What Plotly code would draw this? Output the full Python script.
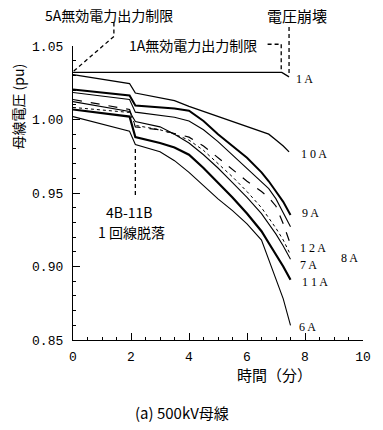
import plotly.graph_objects as go

# ---- data ----
time_grid = [0, 1.95, 2.15, 3, 3.5, 4, 4.5, 5, 5.5, 6, 6.5, 6.75, 7, 7.25, 7.5]
time_10A = [0, 1.95, 2.15, 3, 3.5, 4, 4.5, 5, 5.5, 6, 6.5, 6.75, 7, 7.25, 7.45]
time_1A = [0, 7.2, 7.45]

v_1A = [1.032, 1.032, 1.029]
v_10A = [1.0306, 1.0245, 1.018, 1.015, 1.0128, 1.009, 1.0055, 1.002, 0.9985, 0.9955, 0.992, 0.990, 0.986, 0.982, 0.978]
v_9A = [1.0204, 1.0163, 1.0095, 1.0082, 1.0075, 1.006, 0.999, 0.990, 0.982, 0.974, 0.964, 0.958, 0.951, 0.944, 0.935]
v_5A = [1.0184, 1.0136, 1.005, 1.003, 1.0015, 0.999, 0.993, 0.985, 0.976, 0.967, 0.958, 0.953, 0.946, 0.937, 0.927]
v_12A = [1.0136, 1.0068, 0.995, 0.993, 0.9905, 0.988, 0.982, 0.974, 0.966, 0.958, 0.951, 0.947, 0.941, 0.929, 0.915]
v_8A = [1.0082, 1.0048, 0.996, 0.993, 0.990, 0.986, 0.979, 0.970, 0.961, 0.951, 0.940, 0.933, 0.926, 0.918, 0.908]
v_7A = [1.0122, 1.0054, 0.9986, 0.995, 0.990, 0.984, 0.976, 0.967, 0.957, 0.947, 0.936, 0.929, 0.922, 0.914, 0.905]
v_11A = [1.0068, 1.002, 0.988, 0.984, 0.981, 0.976, 0.967, 0.957, 0.947, 0.936, 0.924, 0.916, 0.908, 0.900, 0.891]
v_6A = [1.002, 0.992, 0.983, 0.978, 0.972, 0.964, 0.955, 0.946, 0.938, 0.929, 0.918, 0.905, 0.892, 0.878, 0.860]

x_ticks = [0, 2, 4, 6, 8, 10]
y_ticks = [0.85, 0.90, 0.95, 1.00, 1.05]
y_tick_labels = ["0.85", "0.90", "0.95", "1.00", "1.05"]

X_RANGE = [0, 10]
Y_RANGE = [0.85, 1.05]

# ---- figure ----
W, H = 383, 430
ML, MR, MT, MB = 73, 12, 46, 90
PW, PH = W - ML - MR, H - MT - MB


def px(xp, yp):
    """pixel position in the window -> paper coordinates"""
    return (xp - ML) / PW, (H - MB - yp) / PH


def dpaper(t, v):
    """data coordinates -> paper coordinates (can lie outside the plot)"""
    return (t - X_RANGE[0]) / (X_RANGE[1] - X_RANGE[0]), (v - Y_RANGE[0]) / (Y_RANGE[1] - Y_RANGE[0])


fig = go.Figure()

series = [
    (time_1A, v_1A, dict(width=1.3, dash="solid")),
    (time_10A, v_10A, dict(width=1.3, dash="solid")),
    (time_grid, v_9A, dict(width=2.0, dash="solid")),
    (time_grid, v_5A, dict(width=1.1, dash="solid")),
    (time_grid, v_12A, dict(width=1.2, dash="dash")),
    (time_grid, v_8A, dict(width=1.0, dash="dot")),
    (time_grid, v_7A, dict(width=1.1, dash="solid")),
    (time_grid, v_11A, dict(width=2.2, dash="solid")),
    (time_grid, v_6A, dict(width=1.1, dash="solid")),
]
for t, v, ln in series:
    fig.add_trace(go.Scatter(x=t, y=v, mode="lines", line=dict(color="black", **ln),
                             showlegend=False, hoverinfo="skip"))

# dashed leader lines (defined in data units, drawn in paper space)
leaders = [
    [(1.41, 1.066), (1.41, 1.0565), (0.0, 1.0325)],          # 5A limit
    [(6.71, 1.0512), (7.18, 1.0512), (7.18, 1.0335)],        # 1A limit
    [(7.45, 1.063), (7.45, 1.031)],                          # voltage collapse
    [(2.15, 0.980), (2.15, 0.947)],                          # 4B-11B line trip
]
shapes = []
for pts in leaders:
    for (t0, v0), (t1, v1) in zip(pts[:-1], pts[1:]):
        x0, y0 = dpaper(t0, v0)
        x1, y1 = dpaper(t1, v1)
        shapes.append(dict(type="line", xref="paper", yref="paper", x0=x0, y0=y0, x1=x1, y1=y1,
                           line=dict(color="black", width=1.3, dash="4px,3px")))

JP = "Noto Sans CJK JP"
SER = "Liberation Serif"
ann = []


def add_text(text, xp, yp, size, family=JP, angle=0):
    x, y = px(xp, yp)
    ann.append(dict(text=text, x=x, y=y, xref="paper", yref="paper", showarrow=False,
                    xanchor="center", yanchor="middle", textangle=angle,
                    font=dict(family=family, size=size, color="black")))


add_text("5A無効電力出力制限", 110, 15, 14)
add_text("1A無効電力出力制限", 196, 45, 14)
add_text("電圧崩壊", 303, 15, 15)
add_text("4B-11B", 131, 212, 14)
add_text("1 回線脱落", 133, 232, 14)

add_text("1 A", 311, 79, 12, SER)
add_text("1 0 A", 321, 154, 12, SER)
add_text("9 A", 317, 213, 12, SER)
add_text("1 2 A", 320, 248, 12, SER)
add_text("8 A", 357, 258, 12, SER)
add_text("7 A", 315, 265, 12, SER)
add_text("1 1 A", 322, 282, 12, SER)
add_text("6 A", 314, 327, 12, SER)

add_text("母線電圧 (pu)", 16, 107, 14, JP, angle=-90)
add_text("時間（分）", 280, 374, 15)
add_text("(a) 500kV母線", 185, 412, 15)

tickfont = dict(family="Liberation Mono", size=13, color="black")

fig.update_layout(
    width=W, height=H,
    margin=dict(l=ML, r=MR, t=MT, b=MB, pad=0),
    paper_bgcolor="white", plot_bgcolor="white",
    shapes=shapes, annotations=ann,
    xaxis=dict(range=X_RANGE, tickvals=x_ticks, ticktext=[str(v) for v in x_ticks],
               showgrid=False, zeroline=False, showline=True, linecolor="black", linewidth=1.3,
               ticks="inside", ticklen=7, tickwidth=1.2, tickcolor="black", tickfont=tickfont,
               minor=dict(dtick=0.5, tick0=0, ticks="inside", ticklen=3, tickcolor="black", tickwidth=1),
               ticklabelstandoff=4, fixedrange=True),
    yaxis=dict(range=Y_RANGE, tickvals=y_ticks, ticktext=y_tick_labels,
               showgrid=False, zeroline=False, showline=True, linecolor="black", linewidth=1.3,
               ticks="inside", ticklen=7, tickwidth=1.2, tickcolor="black", tickfont=tickfont,
               minor=dict(dtick=0.01, tick0=0.85, ticks="inside", ticklen=3, tickcolor="black", tickwidth=1),
               ticklabelstandoff=6, fixedrange=True),
)

fig.write_html("out.html", config={"displayModeBar": False},
               post_script="document.body.style.margin='0';document.body.style.overflow='hidden';")
